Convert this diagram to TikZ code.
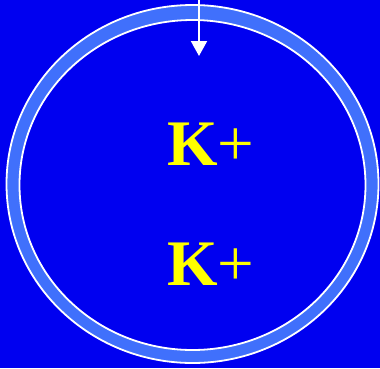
\documentclass[tikz,border=0pt]{standalone}
\usepackage{fontspec}
\setmainfont{Liberation Serif}
\usetikzlibrary{arrows.meta}
\definecolor{bg}{RGB}{0,0,240}
\definecolor{ringc}{RGB}{64,112,252}
\definecolor{kyel}{RGB}{255,255,0}
\tikzset{
  ringline/.style={draw=white, line width=1.8pt},
  ktext/.style={text=kyel, font=\fontsize{65}{65}\selectfont, anchor=base west, inner sep=0pt},
  arrowline/.style={draw=white, line width=2pt, -{Triangle[width=16pt,length=15pt]}}
}
\begin{document}
\begin{tikzpicture}[x=1pt,y=-1pt]
\fill[bg] (0,0) rectangle (380,368);
\useasboundingbox (0,0) rectangle (380,368);
\path[ringline, fill=ringc] (192.5,184) ellipse [x radius=186, y radius=179];
\path[ringline, fill=bg] (192.5,185) ellipse [x radius=173, y radius=165];
\coordinate (src) at (199,-2);
\coordinate (dst) at (199,56);
\draw[arrowline] (src) -- (dst);
\node[ktext] (k1) at (167,165) {\textbf{K}+};
\node[ktext] (k2) at (167,285) {\textbf{K}+};
\end{tikzpicture}
\end{document}
